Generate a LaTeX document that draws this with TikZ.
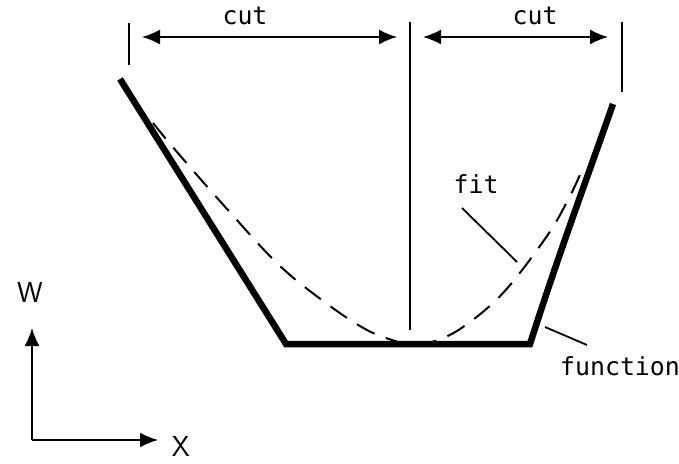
\documentclass[tikz,border=0pt]{standalone}
\usepackage{fontspec}
\setmonofont{DejaVu Sans Mono}
\usepackage{tikz}
\usetikzlibrary{arrows.meta}

\begin{document}
\begin{tikzpicture}[>={Latex[length=18bp,width=15bp]},x=1bp,y=-1bp,
    thin line/.style={line width=1.8bp},
    fn line/.style={line width=6.5bp,line join=miter},
    fit line/.style={line width=2bp,dash pattern=on 20bp off 12bp},
    lbl/.style={font=\fontsize{25}{25}\selectfont\ttfamily,inner sep=0pt}]
  \useasboundingbox (0,0) rectangle (679,464);

  % Begrenzungen
  \draw[thin line] (129,23) -- (129,65);
  \draw[thin line] (410,22) -- (410,330);
  \draw[thin line] (622,22) -- (622,92);

  % Schnittbereiche
  \draw[thin line,<->] (142,37) -- (397,37);
  \draw[thin line,<->] (423,37) -- (608,37);
  \node[lbl] (cutl) at (245,16) {cut};
  \node[lbl] (cutr) at (535,16) {cut};

  % Funktion
  \coordinate (f1) at (120,79);
  \coordinate (f2) at (286,344);
  \coordinate (f3) at (530,344);
  \coordinate (f4) at (613,104);
  \draw[fn line] (f1) -- (f2) -- (f3) .. controls (560,250) and (590,170) .. (f4);

  % Fit
  \draw[fit line] plot[smooth,tension=0.6] coordinates {(153,123) (177,152) (227,209)
    (280,266) (330,306) (367,330) (395,341) (412,345) (435,341) (463,327)
    (503,293) (547,236) (570,196) (582,170)};

  % Beschriftungen
  \node[lbl] (fit) at (476,184) {fit};
  \draw[thin line] (462,208) -- (517,262);
  \node[lbl] (fun) at (620,366) {function};
  \draw[thin line] (545,327) -- (587,345);

  % Achsen
  \coordinate (o) at (32,440);
  \node[font=\fontsize{29}{29}\sffamily,inner sep=0pt] (w) at (30,292) {W};
  \node[font=\fontsize{29}{29}\sffamily,inner sep=0pt] (x) at (181,446) {X};
  \draw[thin line,->] (o) -- (32,328);
  \draw[thin line,->] (o) -- (158,440);
\end{tikzpicture}
\end{document}
